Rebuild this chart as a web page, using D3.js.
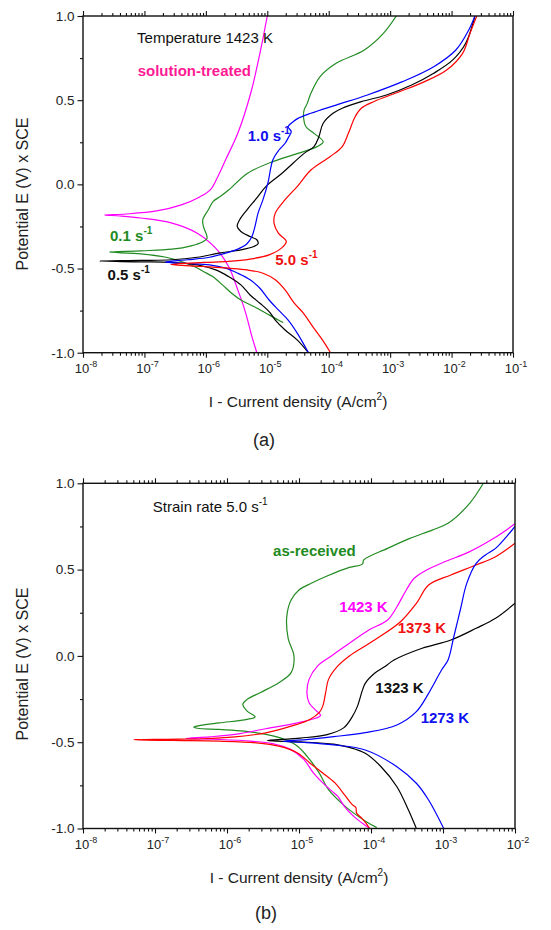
<!DOCTYPE html>
<html>
<head>
<meta charset="utf-8">
<script src="https://cdn.jsdelivr.net/npm/d3@7"></script>
<style>
  body { margin: 0; background: #fff; }
  svg { display: block; }
  text { font-family: "Liberation Sans", Arial, sans-serif; }
</style>
</head>
<body>
<svg id="fig" width="551" height="930"></svg>
<script>
// values: [log10 I (A/cm2), E (V)]
// each curve runs from the cathodic end, through the corrosion potential, up the anodic branch

// ---- (a) temperature 1423 K, different strain rates
const aSolutionTreated = [
  [-5.17,-1.0],[-5.25,-0.905],[-5.35,-0.766],[-5.48,-0.627],[-5.63,-0.488],[-5.84,-0.379],
  [-6.14,-0.29],[-6.55,-0.23],[-7.06,-0.2],[-7.4,-0.188],[-7.65,-0.182],
  [-7.3,-0.176],[-6.8,-0.158],[-6.4,-0.122],[-6.1,-0.075],[-5.92,-0.03],[-5.8,0.05],
  [-5.68,0.145],[-5.48,0.303],[-5.27,0.541],[-5.12,0.778],[-5.0,1.0]
];
const aRate01 = [
  [-4.74,-0.821],[-4.82,-0.806],[-5.02,-0.766],[-5.22,-0.726],[-5.43,-0.687],[-5.58,-0.647],
  [-5.73,-0.597],[-5.89,-0.548],[-6.04,-0.518],[-6.19,-0.488],[-6.40,-0.458],[-6.65,-0.433],
  [-7.06,-0.413],[-7.57,-0.402],
  [-7.06,-0.395],[-6.55,-0.385],[-6.24,-0.365],[-6.04,-0.339],[-5.98,-0.319],[-6.04,-0.25],
  [-6.05,-0.21],[-5.96,-0.151],[-5.88,-0.101],[-5.76,-0.071],[-5.63,-0.034],[-5.32,0.066],
  [-4.91,0.135],[-4.50,0.184],[-4.19,0.224],[-4.09,0.253],[-4.24,0.303],[-4.37,0.342],
  [-4.41,0.40],[-4.40,0.442],[-4.35,0.481],[-4.29,0.541],[-4.14,0.64],[-3.88,0.719],
  [-3.42,0.798],[-3.11,0.897],[-2.90,1.0]
];
const aRate05 = [
  [-4.33,-1.0],[-4.51,-0.925],[-4.71,-0.865],[-4.87,-0.806],[-4.97,-0.756],[-5.12,-0.706],
  [-5.28,-0.657],[-5.43,-0.597],[-5.63,-0.548],[-5.84,-0.508],[-6.14,-0.478],[-6.55,-0.464],
  [-7.06,-0.46],[-7.73,-0.456],
  [-7.06,-0.452],[-6.55,-0.448],[-6.14,-0.433],[-5.79,-0.409],[-5.43,-0.389],[-5.22,-0.369],
  [-5.15,-0.353],[-5.17,-0.329],[-5.28,-0.31],[-5.43,-0.28],[-5.49,-0.25],[-5.45,-0.21],
  [-5.33,-0.151],[-5.17,-0.081],[-5.02,-0.012],[-4.76,0.066],[-4.40,0.184],[-4.24,0.224],
  [-4.16,0.283],[-4.09,0.363],[-3.93,0.422],[-3.78,0.452],[-3.47,0.491],[-3.06,0.531],
  [-2.65,0.59],[-2.29,0.66],[-1.98,0.739],[-1.77,0.838],[-1.62,1.0]
];
const aRate10 = [
  [-4.33,-1.0],[-4.51,-0.885],[-4.66,-0.806],[-4.82,-0.746],[-4.97,-0.687],[-5.12,-0.617],
  [-5.28,-0.567],[-5.48,-0.528],[-5.68,-0.498],[-5.94,-0.478],[-6.30,-0.47],[-6.66,-0.462],
  [-6.30,-0.448],[-5.94,-0.433],[-5.68,-0.409],[-5.48,-0.385],[-5.33,-0.353],[-5.25,-0.31],
  [-5.20,-0.25],[-5.15,-0.171],[-5.07,-0.091],[-4.99,0.008],[-4.91,0.145],[-4.81,0.204],
  [-4.71,0.244],[-4.65,0.283],[-4.61,0.313],[-4.66,0.342],[-4.58,0.372],[-4.50,0.392],
  [-4.29,0.422],[-3.88,0.471],[-3.37,0.531],[-2.80,0.61],[-2.29,0.699],[-1.93,0.798],
  [-1.72,0.917],[-1.62,1.0]
];
const aRate50 = [
  [-3.97,-1.0],[-4.10,-0.925],[-4.26,-0.845],[-4.41,-0.766],[-4.56,-0.706],[-4.71,-0.627],
  [-4.87,-0.567],[-5.07,-0.528],[-5.33,-0.508],[-5.63,-0.498],[-6.04,-0.488],[-6.57,-0.476],
  [-6.04,-0.464],[-5.63,-0.458],[-5.28,-0.444],[-4.97,-0.419],[-4.77,-0.379],[-4.69,-0.339],
  [-4.82,-0.29],[-4.89,-0.23],[-4.87,-0.171],[-4.71,-0.091],[-4.51,-0.012],[-4.29,0.085],
  [-3.98,0.164],[-3.78,0.224],[-3.68,0.303],[-3.57,0.402],[-3.47,0.452],[-3.27,0.491],
  [-2.85,0.55],[-2.44,0.61],[-2.08,0.679],[-1.82,0.778],[-1.70,0.897],[-1.59,1.0]
];

// ---- (b) strain rate 5.0 s-1, different temperatures
const bAsReceived = [
  [-3.92,-0.995],[-4.07,-0.959],[-4.24,-0.911],[-4.41,-0.853],[-4.59,-0.775],[-4.72,-0.678],
  [-4.85,-0.601],[-5.02,-0.523],[-5.20,-0.484],[-5.46,-0.455],[-5.76,-0.436],[-6.11,-0.426],
  [-6.41,-0.419],[-6.46,-0.413],
  [-6.37,-0.403],[-6.11,-0.388],[-5.72,-0.368],[-5.61,-0.353],[-5.72,-0.32],[-5.78,-0.281],
  [-5.72,-0.252],[-5.54,-0.213],[-5.28,-0.155],[-5.11,-0.097],[-5.07,0.0],[-5.15,0.1],
  [-5.17,0.227],[-5.11,0.324],[-5.00,0.382],[-4.83,0.421],[-4.61,0.463],[-4.30,0.513],
  [-4.12,0.532],[-4.10,0.556],[-3.77,0.623],[-3.46,0.681],[-3.15,0.729],[-2.93,0.768],
  [-2.63,0.884],[-2.44,1.0]
];
const b1423 = [
  [-4.02,-0.998],[-4.11,-0.973],[-4.24,-0.93],[-4.37,-0.872],[-4.46,-0.814],[-4.54,-0.785],
  [-4.67,-0.736],[-4.80,-0.678],[-4.93,-0.601],[-5.11,-0.543],[-5.37,-0.508],[-5.67,-0.494],
  [-6.11,-0.484],[-6.57,-0.478],
  [-6.24,-0.469],[-5.89,-0.455],[-5.46,-0.422],[-5.02,-0.388],[-4.76,-0.36],[-4.70,-0.345],
  [-4.78,-0.31],[-4.86,-0.271],[-4.89,-0.213],[-4.86,-0.136],[-4.74,-0.058],[-4.55,0.0],
  [-4.30,0.073],[-4.03,0.15],[-3.77,0.208],[-3.64,0.285],[-3.51,0.382],[-3.40,0.45],
  [-3.24,0.495],[-2.95,0.55],[-2.65,0.60],[-2.30,0.68],[-2.0,0.765]
];
const b1373 = [
  [-4.02,-1.0],[-4.07,-0.969],[-4.13,-0.94],[-4.20,-0.911],[-4.21,-0.878],[-4.26,-0.862],
  [-4.37,-0.804],[-4.50,-0.736],[-4.67,-0.678],[-4.85,-0.62],[-5.02,-0.562],[-5.28,-0.523],
  [-5.59,-0.504],[-6.11,-0.494],[-6.76,-0.49],[-7.30,-0.486],
  [-6.85,-0.483],[-6.33,-0.48],[-5.89,-0.469],[-5.46,-0.446],[-5.11,-0.407],[-4.85,-0.368],
  [-4.72,-0.329],[-4.67,-0.291],[-4.63,-0.213],[-4.59,-0.136],[-4.46,-0.058],[-4.30,0.0],
  [-3.95,0.092],[-3.59,0.198],[-3.37,0.304],[-3.20,0.411],[-2.89,0.469],[-2.54,0.527],
  [-2.27,0.575],[-2.0,0.653]
];
const b1323 = [
  [-3.37,-1.0],[-3.48,-0.893],[-3.64,-0.758],[-3.86,-0.642],[-4.08,-0.564],[-4.30,-0.53],
  [-4.52,-0.511],[-4.98,-0.498],[-5.44,-0.49],
  [-4.98,-0.476],[-4.61,-0.456],[-4.38,-0.417],[-4.26,-0.352],[-4.19,-0.294],[-4.12,-0.2],
  [-4.08,-0.159],[-3.95,-0.101],[-3.80,-0.06],[-3.68,-0.024],[-3.29,0.044],[-2.89,0.092],
  [-2.54,0.16],[-2.27,0.218],[-2.0,0.305]
];
const b1273 = [
  [-2.99,-1.0],[-3.20,-0.835],[-3.37,-0.738],[-3.64,-0.642],[-4.08,-0.545],[-4.52,-0.516],
  [-4.90,-0.502],[-5.22,-0.495],
  [-4.90,-0.485],[-4.52,-0.468],[-4.08,-0.445],[-3.64,-0.4],[-3.37,-0.323],[-3.20,-0.217],
  [-3.02,-0.082],[-2.93,-0.024],[-2.85,0.111],[-2.76,0.266],[-2.67,0.42],[-2.54,0.536],
  [-2.41,0.585],[-2.27,0.623],[-2.12,0.69],[-2.0,0.75]
];

// tick labels
const decadesA = [-8, -7, -6, -5, -4, -3, -2, -1];
const decadesB = [-8, -7, -6, -5, -4, -3, -2];
const potentialMajor = [-1, -0.5, 0, 0.5, 1];
const potentialMinor = [-0.75, -0.25, 0.25, 0.75];

const GREEN = "#228b22";

const svg = d3.select("#fig");

function drawPanel(id, box, decades, series, notes) {
  const g = svg.append("g");
  const x = d3.scaleLog()
    .domain([Math.pow(10, decades[0]), Math.pow(10, decades[decades.length - 1])])
    .range([box.left, box.right]);
  const y = d3.scaleLinear().domain([-1, 1]).range([box.bottom, box.top]);

  const major = decades.map(d => Math.pow(10, d));
  const minor = [];
  decades.slice(0, -1).forEach(d => {
    for (let k = 2; k <= 9; k++) minor.push(k * Math.pow(10, d));
  });

  g.append("clipPath").attr("id", id).append("rect")
    .attr("x", box.left).attr("y", box.top)
    .attr("width", box.right - box.left).attr("height", box.bottom - box.top);

  const line = d3.line()
    .x(d => x(Math.pow(10, d[0])))
    .y(d => y(d[1]))
    .curve(d3.curveCatmullRom.alpha(0.5));

  g.append("g").attr("clip-path", `url(#${id})`)
    .selectAll("path").data(series).join("path")
    .attr("fill", "none")
    .attr("stroke", s => s.color)
    .attr("stroke-width", 1.2)
    .attr("d", s => line(s.values));

  // axes
  [d3.axisBottom(x).tickValues(minor).tickSize(3), d3.axisBottom(x).tickValues(major).tickSize(5)]
    .forEach(a => g.append("g").attr("transform", `translate(0,${box.bottom})`)
      .call(a.tickFormat("").tickSizeOuter(0)));
  [d3.axisTop(x).tickValues(minor).tickSize(3), d3.axisTop(x).tickValues(major).tickSize(5)]
    .forEach(a => g.append("g").attr("transform", `translate(0,${box.top})`)
      .call(a.tickFormat("").tickSizeOuter(0)));

  g.append("g").attr("transform", `translate(${box.left},0)`)
    .call(d3.axisLeft(y).tickValues(potentialMinor).tickSize(3).tickFormat("").tickSizeOuter(0));
  const yAx = g.append("g").attr("transform", `translate(${box.left},0)`)
    .call(d3.axisLeft(y).tickValues(potentialMajor).tickSize(5.5).tickPadding(3)
      .tickFormat(d => d.toFixed(1)).tickSizeOuter(0));
  yAx.selectAll("text").attr("font-size", 13.5).attr("fill", "#222")
    .attr("font-family", "Liberation Sans, Arial, sans-serif");

  g.selectAll(".domain").remove();
  g.selectAll(".tick line").attr("stroke", "#111").attr("stroke-width", 1.1);

  g.append("rect")
    .attr("x", box.left).attr("y", box.top)
    .attr("width", box.right - box.left).attr("height", box.bottom - box.top)
    .attr("fill", "none").attr("stroke", "#111").attr("stroke-width", 1.4);

  // x tick labels 10^n
  g.append("g").selectAll("text").data(decades).join("text")
    .attr("x", d => x(Math.pow(10, d)) + 3)
    .attr("y", box.bottom + 20)
    .attr("text-anchor", "middle")
    .attr("font-size", 13)
    .attr("fill", "#222")
    .each(function (d) {
      const t = d3.select(this);
      t.append("tspan").text("10");
      t.append("tspan").attr("dy", -6).attr("font-size", 9).text("-" + Math.abs(d));
    });

  // annotations
  notes.forEach(n => {
    const t = g.append("text")
      .attr("x", x(Math.pow(10, n.at[0])))
      .attr("y", y(n.at[1]))
      .attr("font-size", 15)
      .attr("font-weight", n.bold ? "bold" : "normal")
      .attr("fill", n.color);
    t.append("tspan").text(n.text);
    if (n.sup) t.append("tspan").attr("dy", -7).attr("font-size", 10).text(n.sup);
  });

  // axis titles
  const xt = g.append("text")
    .attr("x", (box.left + box.right) / 2)
    .attr("y", box.bottom + 54)
    .attr("text-anchor", "middle")
    .attr("font-size", 15.5)
    .attr("fill", "#222");
  xt.append("tspan").text("I - Current density (A/cm");
  xt.append("tspan").attr("dy", -7).attr("font-size", 10).text("2");
  xt.append("tspan").attr("dy", 7).text(")");

  g.append("text")
    .attr("transform", `translate(28,${box.titleY}) rotate(-90)`)
    .attr("text-anchor", "middle")
    .attr("font-size", 16)
    .attr("fill", "#222")
    .text("Potential E (V) x SCE");

  svg.append("text")
    .attr("x", box.captionX).attr("y", box.captionY)
    .attr("text-anchor", "middle")
    .attr("font-family", "Liberation Serif, Times New Roman, serif")
    .attr("font-size", 18)
    .attr("fill", "#222")
    .text(box.caption);
}

drawPanel("clipA",
  { left: 83, right: 513, top: 16, bottom: 352.7, titleY: 194, captionX: 264, captionY: 446, caption: "(a)" },
  decadesA,
  [
    { values: aSolutionTreated, color: "#ff00ff" },
    { values: aRate01, color: GREEN },
    { values: aRate05, color: "#000000" },
    { values: aRate10, color: "#0000ff" },
    { values: aRate50, color: "#ff0000" }
  ],
  [
    { text: "Temperature 1423 K", at: [-7.12, 0.84], color: "#111" },
    { text: "solution-treated", at: [-7.11, 0.644], color: "#ff1a94", bold: true },
    { text: "1.0 s", sup: "-1", at: [-5.32, 0.257], color: "#1010ee", bold: true },
    { text: "0.1 s", sup: "-1", at: [-7.56, -0.337], color: GREEN, bold: true },
    { text: "0.5 s", sup: "-1", at: [-7.60, -0.568], color: "#111", bold: true },
    { text: "5.0 s", sup: "-1", at: [-4.87, -0.479], color: "#ee1111", bold: true }
  ]);

drawPanel("clipB",
  { left: 83, right: 515, top: 483.3, bottom: 828.5, titleY: 664, captionX: 266, captionY: 919, caption: "(b)" },
  decadesB,
  [
    { values: bAsReceived, color: GREEN },
    { values: b1423, color: "#ff00ff" },
    { values: b1373, color: "#ff0000" },
    { values: b1323, color: "#000000" },
    { values: b1273, color: "#0000ff" }
  ],
  [
    { text: "Strain rate 5.0 s", sup: "-1", at: [-7.03, 0.835], color: "#111" },
    { text: "as-received", at: [-5.36, 0.579], color: GREEN, bold: true },
    { text: "1423 K", at: [-4.44, 0.256], color: "#ff00ff", bold: true },
    { text: "1373 K", at: [-3.63, 0.134], color: "#ee1111", bold: true },
    { text: "1323 K", at: [-3.94, -0.217], color: "#111", bold: true },
    { text: "1273 K", at: [-3.31, -0.39], color: "#1010ee", bold: true }
  ]);
</script>
</body>
</html>
